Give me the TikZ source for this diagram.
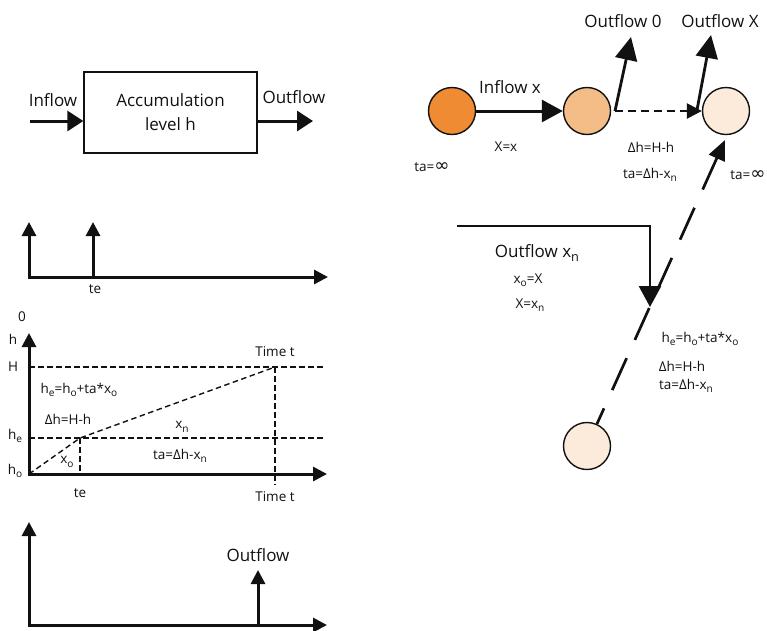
\documentclass[tikz,border=0pt]{standalone}
\usepackage{fontspec}
\setmainfont{Open Sans}
\newfontfamily\symfont{DejaVu Sans}
\usetikzlibrary{arrows.meta}

% lowered small index for level and flow symbols
\newcommand\lo[1]{\raisebox{-0.45ex}{\scalebox{0.75}{#1}}}
\newcommand\infsym{\raisebox{-0.1ex}{\scalebox{1.35}{\symfont ∞}}}

\definecolor{ink}{HTML}{111111}
\definecolor{orangeA}{HTML}{EE8B33}
\definecolor{orangeB}{HTML}{F4BD88}
\definecolor{orangeC}{HTML}{FCEBDA}

\tikzset{
  big/.style={font=\fontsize{17}{24}\selectfont, inner sep=0pt, text=ink},
  small/.style={font=\fontsize{13.5}{16}\selectfont, inner sep=0pt, text=ink},
  axisline/.style={draw=ink, line width=3pt, line join=miter},
  axtip/.tip={Triangle[length=14pt,width=14pt]},
  bigtip/.tip={Triangle[length=21pt,width=22pt]},
  boxtip/.tip={Triangle[length=16pt,width=20pt]},
  guide/.style={draw=ink, line width=1.4pt, dash pattern=on 5.5pt off 3.5pt},
  flow/.style={draw=ink, line width=3pt, -bigtip},
  state/.style={circle, draw=ink, line width=1.4pt, minimum size=47pt, inner sep=0pt},
}

\begin{document}
\begin{tikzpicture}[x=1pt,y=-1pt]
\useasboundingbox (0,0) rectangle (767,630);

% ---------- accumulation block ----------
\node[draw=ink, line width=1.3pt, minimum width=173pt, minimum height=81pt,
      align=center, big] (acc) at (170.5,112.5) {Accumulation\\level h};
\coordinate (inS) at (30,121);
\coordinate (outE) at (313,121);
\draw[axisline, -boxtip] (inS) -- (inS -| acc.west);
\draw[axisline, -boxtip] (outE -| acc.east) -- (outE);
\node[big] (inlab) at (53,100) {Inflow};
\node[big] (outlab) at (294,97) {Outflow};

% ---------- inflow pulses ----------
\coordinate (o2) at (29,277);
\coordinate (y2) at (29,222);
\coordinate (x2) at (328,277);
\coordinate (te2) at (93,277);
\coordinate (te2t) at (93,222);
\draw[axisline, axtip-axtip] (y2) -- (o2) -- (x2);
\draw[axisline, -axtip] (te2) -- (te2t);
\node[small] (te2lab) at (95,289) {te};

% ---------- level over time ----------
\coordinate (o3) at (29,474);
\coordinate (y3) at (29,333);
\coordinate (x3) at (327,474);
\coordinate (H0) at (29,367);
\coordinate (H1) at (325,367);
\coordinate (he0) at (29,438);
\coordinate (he1) at (325,438);
\coordinate (pe) at (80,438);
\coordinate (pt) at (275,367);
\coordinate (pe0) at (80,474);
\coordinate (pt0) at (275,485);
\draw[guide] (H0) -- (H1);
\draw[guide] (he0) -- (he1);
\draw[guide] (pe) -- (pe0);
\draw[guide] (pt) -- (pt0);
\draw[guide] (o3) -- (pe) -- (pt);
\draw[axisline, axtip-axtip] (y3) -- (o3) -- (x3);

\node[small] (zero) at (22,317) {0};
\node[small] (hlab) at (13,339) {h};
\node[small] (Hlab) at (13,367) {H};
\node[small] (helab) at (15,436) {h\lo{e}};
\node[small] (holab) at (15,471) {h\lo{o}};
\node[small] (tt1) at (275,352) {Time t};
\node[small] (eq1) at (79,390) {h\lo{e}=h\lo{o}+ta*x\lo{o}};
\node[small] (dh1) at (68,419) {Δh=H-h};
\node[small] (xn1) at (182,427) {x\lo{n}};
\node[small] (xo1) at (67,462) {x\lo{o}};
\node[small] (ta1) at (180,456) {ta=Δh-x\lo{n}};
\node[small] (te3) at (80,493) {te};
\node[small] (tt2) at (275,497) {Time t};

% ---------- outflow pulse ----------
\coordinate (o4) at (29,625);
\coordinate (y4) at (29,522);
\coordinate (x4) at (327,625);
\coordinate (sp0) at (258,625);
\coordinate (sp1) at (258,570);
\draw[axisline, axtip-axtip] (y4) -- (o4) -- (x4);
\draw[axisline, -axtip] (sp0) -- (sp1);
\node[big] (outlab4) at (258,555) {Outflow};

% ---------- state graph ----------
\node[state, fill=orangeA] (s1) at (452,111) {};
\node[state, fill=orangeB] (s2) at (587,111) {};
\node[state, fill=orangeC] (s3) at (726,111) {};
\node[state, fill=orangeC] (s4) at (587,446) {};

\draw[flow] (s1) -- (s2);
\node[big] (inx) at (510,87) {Inflow x};
\node[small] (xeq) at (506,147) {X=x};
\node[small] (ta0) at (432,167) {ta=\infsym};

\coordinate (d0) at (615,111);
\coordinate (u0) at (631,37);
\coordinate (d1) at (697,110);
\coordinate (u1) at (711,35);
\draw[draw=ink, line width=2.6pt, dash pattern=on 8pt off 5pt,
      -{Triangle[length=15pt,width=15pt]}] (d0) -- (s3.west);
\draw[draw=ink, line width=2.8pt, -{Triangle[length=23pt,width=22pt]}] (d0) -- (u0);
\draw[draw=ink, line width=2.8pt, -{Triangle[length=23pt,width=22pt]}] (d1) -- (u1);
\node[big] (o0lab) at (623,21) {Outflow 0};
\node[big] (oXlab) at (720,21) {Outflow X};
\node[small] (dh2) at (651,147) {Δh=H-h};
\node[small] (ta2) at (650,175) {ta=Δh-x\lo{n}};
\node[small] (ta3) at (748,175) {ta=\infsym};

% return from the lower state
\coordinate (rt) at (725,140);
\draw[draw=ink, line width=2.7pt, dash pattern=on 35pt off 20pt,
      {Triangle[length=20pt,width=17pt]}-] (rt) -- (s4);

% outflow xn feedback
\coordinate (f0) at (457,226);
\coordinate (fc) at (650,226);
\coordinate (f1) at (650,307);
\draw[draw=ink, line width=2.6pt, line join=miter, -bigtip] (f0) -- (fc) -- (f1);
\node[big] (oxn) at (537,253) {Outflow x\lo{n}};
\node[small] (xoX) at (528,280) {x\lo{o}=X};
\node[small] (Xxn) at (530,305) {X=x\lo{n}};
\node[small] (eq2) at (700,339) {h\lo{e}=h\lo{o}+ta*x\lo{o}};
\node[small] (dh3) at (682,366) {Δh=H-h};
\node[small] (ta4) at (686,386) {ta=Δh-x\lo{n}};
\end{tikzpicture}
\end{document}
